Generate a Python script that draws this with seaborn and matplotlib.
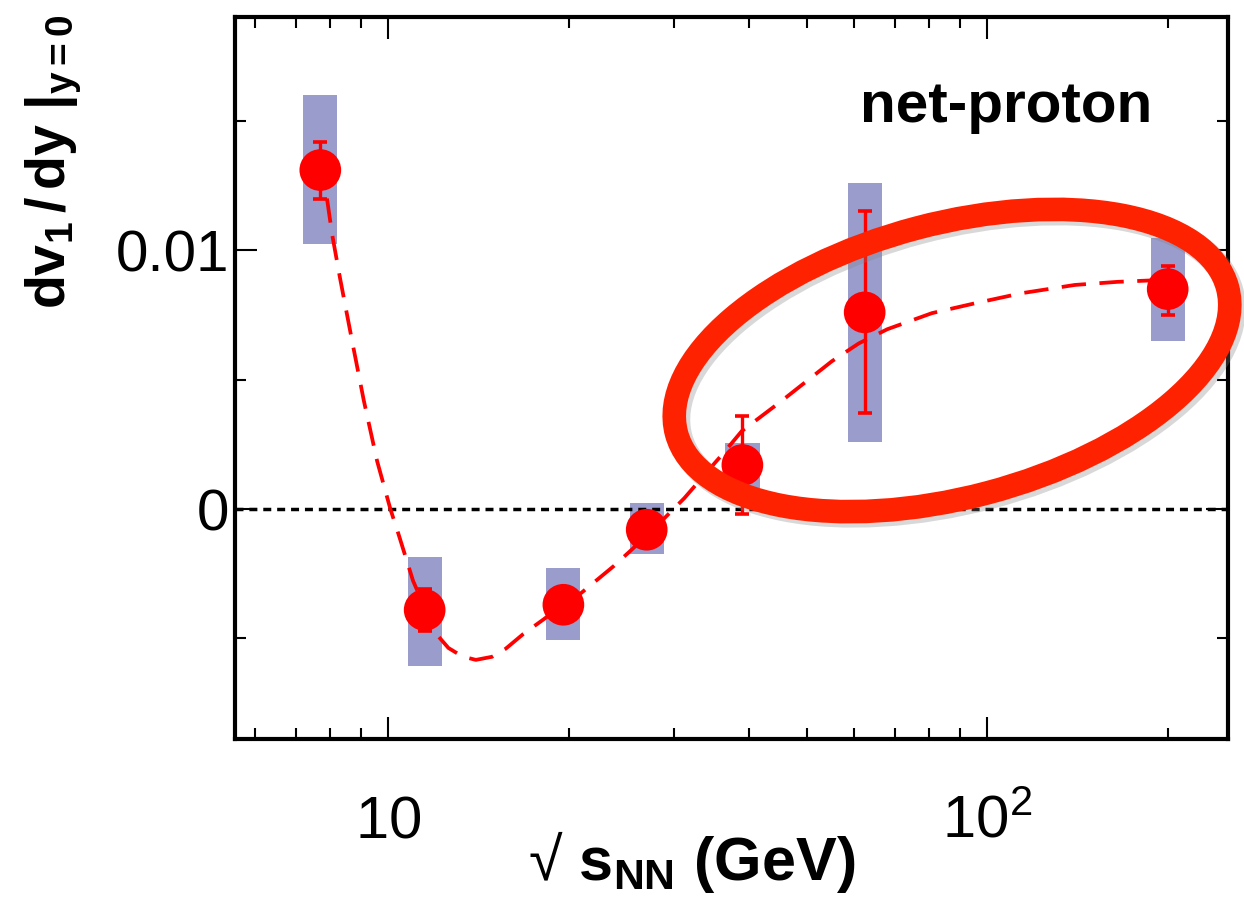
import matplotlib
matplotlib.use('Agg')
import matplotlib.pyplot as plt
import matplotlib.ticker as mticker
from matplotlib.patches import Ellipse
import numpy as np
import seaborn as sns

# beam energies (GeV) and net-proton slope values
sqrt_s = [7.7, 11.5, 19.6, 27, 39, 62.4, 200]
dv1dy = [0.0131, -0.0039, -0.0037, -0.0008, 0.0017, 0.0076, 0.0085]
stat_up = [0.0011, 0.0008, 0.0004, 0.0004, 0.0019, 0.0039, 0.0009]
stat_down = [0.0011, 0.0008, 0.0004, 0.0004, 0.0019, 0.0039, 0.0010]
sys_top = [0.0160, -0.00185, -0.00228, 0.00023, 0.00255, 0.01259, 0.01046]
sys_bottom = [0.01023, -0.00606, -0.00506, -0.00174, 0.00081, 0.00259, 0.00649]

# dashed model curve
curve_x = [7.9, 8.06, 8.31, 8.7, 9.1, 9.58, 10.08, 10.4, 11.0, 11.6, 12.1, 12.6,
           13.3, 14.0, 14.9, 15.7, 16.8, 18.2, 19.6, 21.0, 23.8, 27.2, 31.2,
           36.5, 38.9, 45.3, 55.0, 61.0, 68.1, 80.8, 95.3, 114, 140, 165, 190]
curve_y = [0.0120, 0.0106, 0.0089, 0.0065, 0.0042, 0.00185, 0.0, -0.00097,
           -0.00278, -0.0040, -0.0049, -0.00537, -0.00570, -0.00583, -0.00571,
           -0.0054, -0.00483, -0.00425, -0.00367, -0.00324, -0.0022, -0.00097,
           0.00042, 0.00224, 0.00301, 0.00417, 0.00571, 0.00640, 0.00695,
           0.00757, 0.00795, 0.00834, 0.00866, 0.00878, 0.00884]

sns.set_theme(style='ticks')
plt.rcParams['font.family'] = ['Liberation Sans', 'DejaVu Sans']
plt.rcParams['mathtext.fontset'] = 'custom'
plt.rcParams['mathtext.rm'] = 'Liberation Sans'
plt.rcParams['mathtext.bf'] = 'Liberation Sans:bold'
plt.rcParams['mathtext.it'] = 'Liberation Sans:italic'
plt.rcParams['text.color'] = 'black'
plt.rcParams['axes.labelcolor'] = 'black'
plt.rcParams['xtick.color'] = 'black'
plt.rcParams['ytick.color'] = 'black'

fig = plt.figure(figsize=(12.44, 9.15), dpi=100)
ax = fig.add_axes([0.189, 0.192, 0.798, 0.789])
ax.set_xscale('log')

# systematic boxes (same width in log space)
f = 1.068
xs = np.array(sqrt_s)
ax.bar(xs / f, np.array(sys_top) - np.array(sys_bottom), width=xs * f - xs / f,
       bottom=sys_bottom, align='edge', color='#9a9ccc', linewidth=0, zorder=1)

ax.axhline(0, color='black', lw=2.5, linestyle=(0, (2.3, 1.7)), zorder=2)

sns.lineplot(x=curve_x, y=curve_y, ax=ax, color='red', lw=2.7,
             linestyle=(0, (6.5, 3.6)), sort=False, zorder=3)

ax.errorbar(sqrt_s, dv1dy, yerr=[stat_down, stat_up], fmt='none', ecolor='red',
            elinewidth=2.4, capsize=5, capthick=2.6, zorder=4)
sns.scatterplot(x=sqrt_s, y=dv1dy, ax=ax, color='red', s=900, edgecolor='none',
                zorder=5, legend=False)

ax.set_xlim(5.55, 252)
ax.set_ylim(-0.0089, 0.019)

ax.xaxis.set_major_locator(mticker.FixedLocator([10, 100]))
ax.xaxis.set_major_formatter(mticker.FixedFormatter([r'$10$', r'$10^2$']))
ax.xaxis.set_minor_locator(mticker.FixedLocator([6, 7, 8, 9, 20, 30, 40, 50, 60, 70, 80, 90, 200]))
ax.xaxis.set_minor_formatter(mticker.NullFormatter())
ax.yaxis.set_major_locator(mticker.FixedLocator([0, 0.01]))
ax.yaxis.set_major_formatter(mticker.FixedFormatter(['0', '0.01']))
ax.yaxis.set_minor_locator(mticker.FixedLocator([-0.005, 0.005, 0.015]))

ax.tick_params(which='both', direction='in', top=True, right=True, width=1.5, color='black')
ax.tick_params(which='major', length=16)
ax.tick_params(which='minor', length=8)
ax.tick_params(axis='y', labelsize=42, pad=4)
ax.tick_params(axis='x', labelsize=43, pad=71)
for lab in ax.get_xticklabels():
    lab.set_va('baseline')
for sp in ax.spines.values():
    sp.set_linewidth(3)
    sp.set_color('black')

ax.set_ylabel(r'$\mathbf{dv_1\,/\,dy\ |_{y=0}}$', fontsize=40)
ax.yaxis.set_label_coords(-0.152, 0.80)
ax.set_xlabel(r'$\mathrm{√}\ \mathbf{s_{NN}\ (GeV)}$', fontsize=44)
ax.xaxis.set_label_coords(0.46, -0.124)

ax.text(0.777, 0.855, 'net-proton', transform=ax.transAxes, fontsize=42,
        fontweight='bold', ha='center', va='baseline')

# highlight ellipse with soft shadow
shadow = Ellipse((9.555, 5.51), 5.70, 2.74, angle=14.8, transform=fig.dpi_scale_trans,
                 fill=False, edgecolor='grey', lw=18, alpha=0.3, clip_on=False, zorder=9)
ring = Ellipse((9.52, 5.545), 5.70, 2.74, angle=14.8, transform=fig.dpi_scale_trans,
               fill=False, edgecolor='#ff2200', lw=17, clip_on=False, zorder=10)
ax.add_artist(shadow)
ax.add_artist(ring)

fig.savefig('out.png', dpi=100)
